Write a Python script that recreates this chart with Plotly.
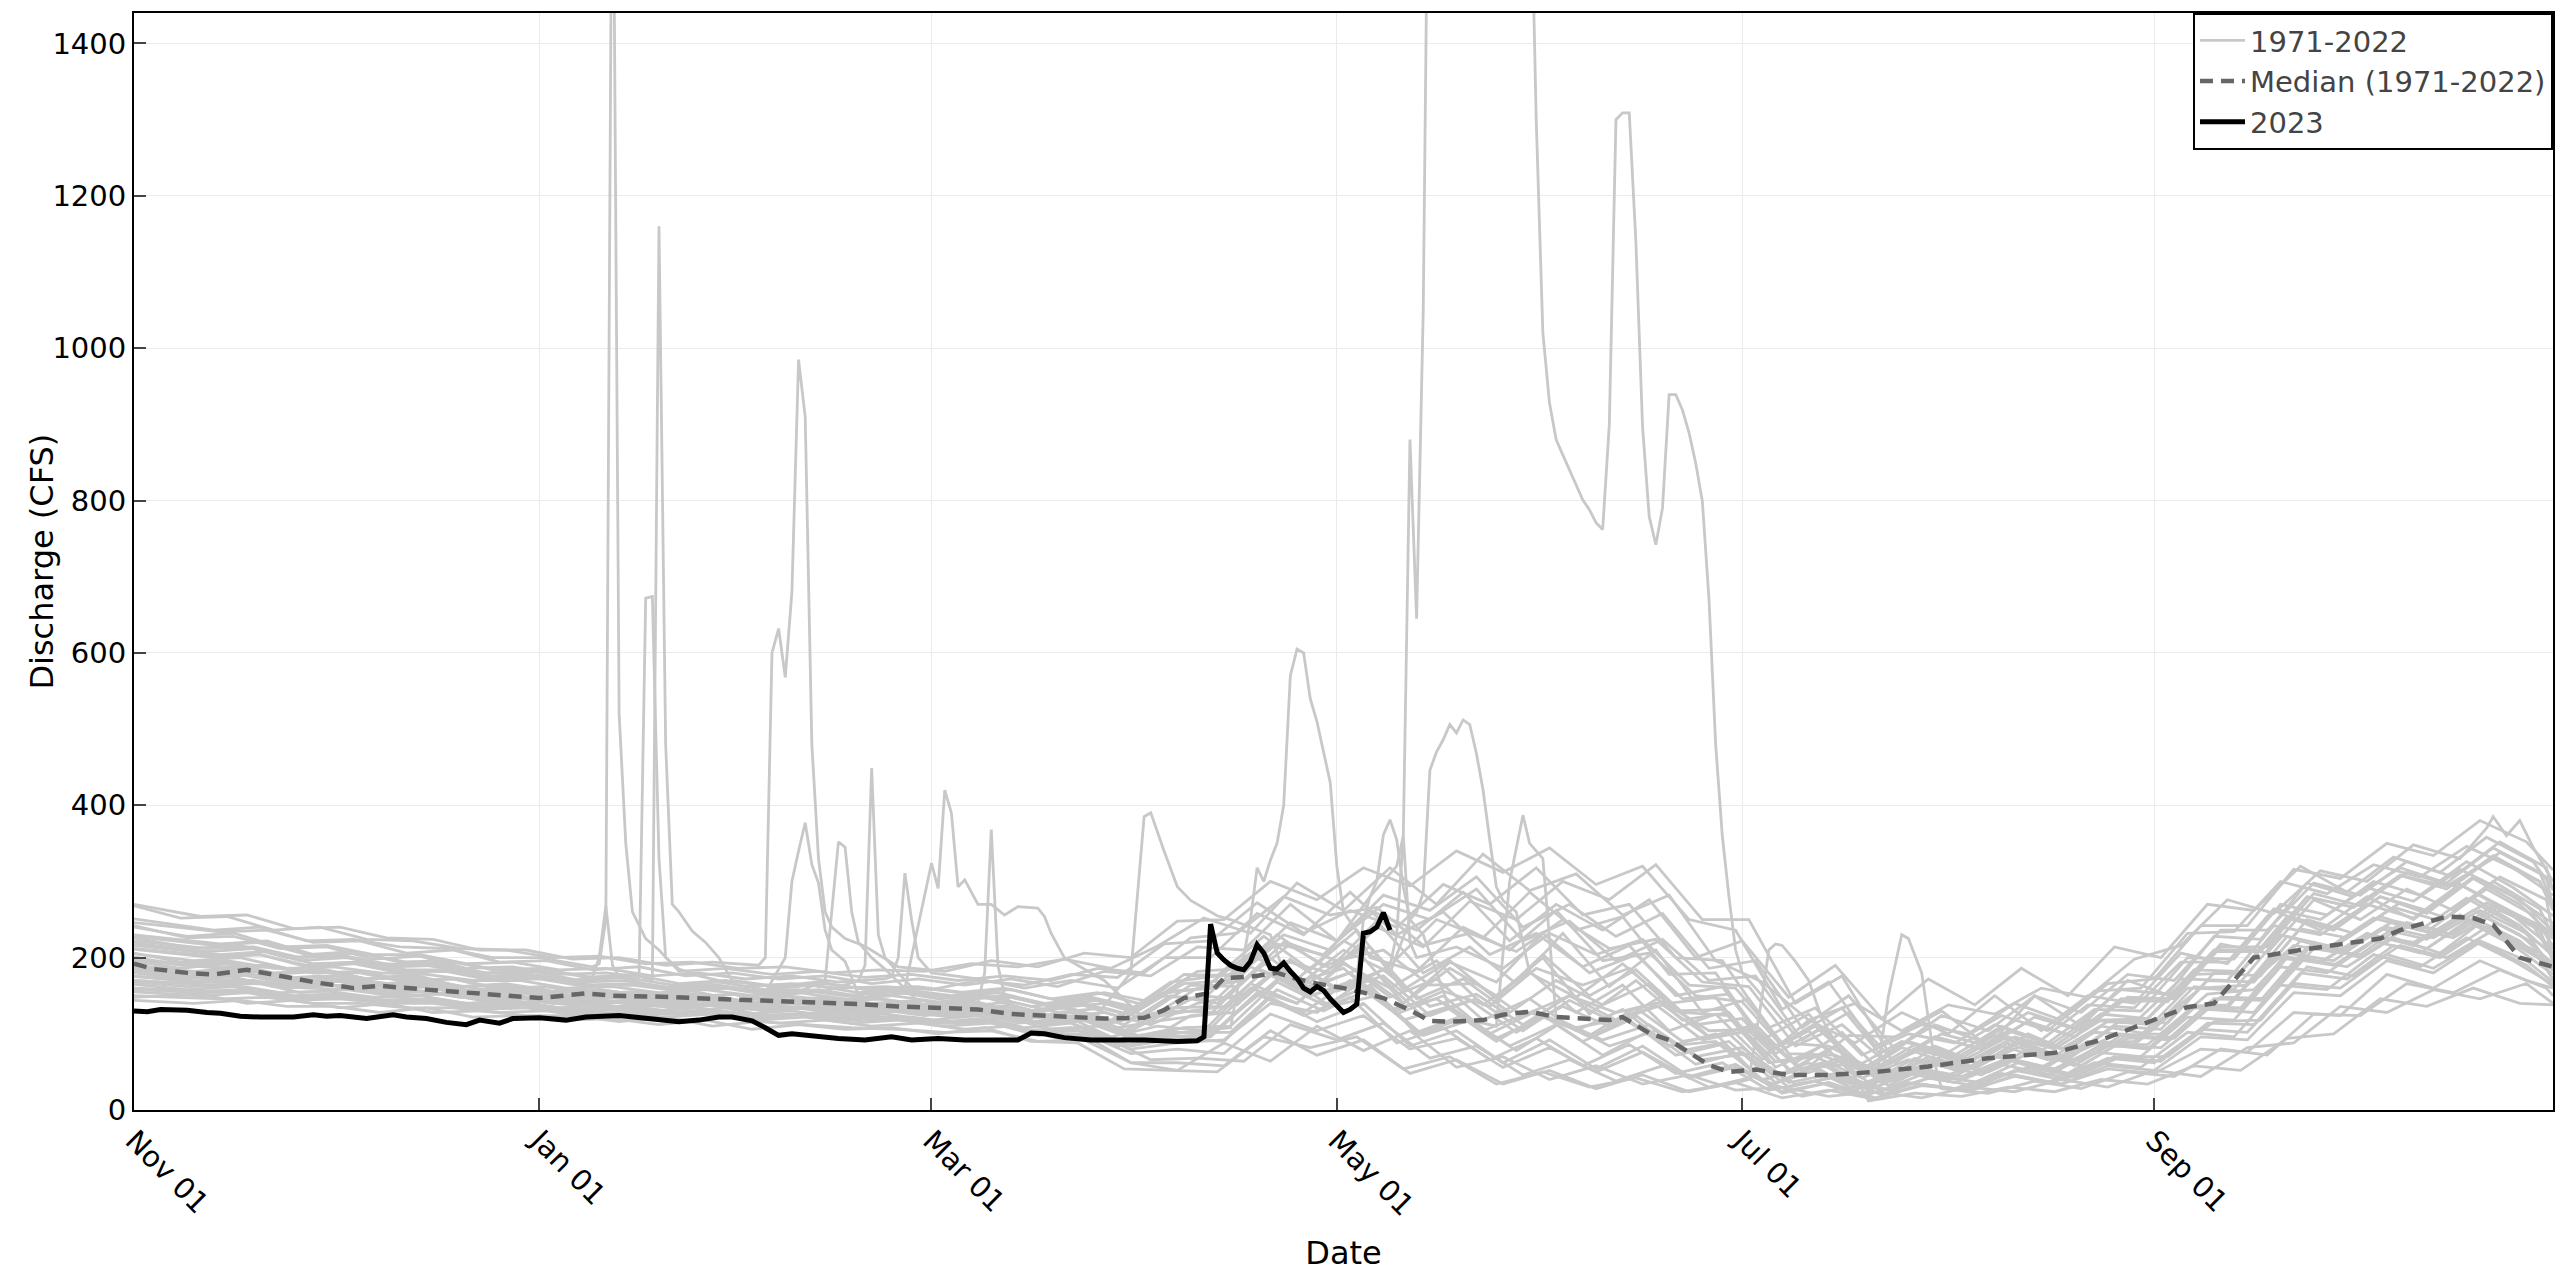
import pandas as pd
import plotly.graph_objects as go

# ---------------- data ----------------
BASE_DATE = "2022-11-01"   # day 0 of the water year (Nov 01)

# historical years 1971-2022: 53 roughly weekly values (CFS) each
hist_weekly = [
    [268,252,254,236,240,224,222,212,210,200,202,192,194,186,188,180,184,182, 192,188,198,186,215, 252,232,298,262,318,270,336,288,310,256,282,196, 168,118,140,104,138,126,160,148,198, 216,276,258,314,300,348,322,368,305],
    [148,152,140,144,134,140,128,130,124,124,116,122,110,116,112,108,106,102, 104,90,92,62,52, 88,64,110,78,104,56,70,40,58,34,46,26, 30,18,24,16,30,24,40,30,52, 44,82,88,136,128,158,146,166,140],
    [196,186,188,180,180,168,172,158,162,152,154,144,152,140,144,136,140,130, 138,122,128,112,140, 152,196,160,184,136,152,112,150,118,138,96,104, 52,66,44,70,50,78,58,94,96, 148,146,220,200,240,226,262,236,192],
    [226,212,216,200,204,192,190,180,180,168,172,160,164,156,158,150,156,146, 150,136,142,126,168, 176,228,184,236,158,196,146,204,150,184,128,124, 64,72,48,80,64,96,80,118,120, 178,180,252,236,280,258,304,270,228],
    [170,164,166,160,158,148,154,140,142,136,136,128,134,122,128,122,122,114, 122,106,110,88,124, 128,178,136,150,98,118,78,116,84,104,66,74, 34,44,26,44,36,56,44,70,70, 116,118,188,176,216,200,236,206,170],
    [242,226,228,212,214,198,202,186,188,178,180,168,176,162,166,160,162,158, 170,164,178,174,218, 222,272,232,262,240,296,270,318,256,270,200,196, 108,134,72,100,88,124,104,156,160, 232,234,300,284,322,306,346,318,282],
    [181,172,178,164,170,160,162,152,156,144,148,142,144,136,144,130,136,132, 132,120,122,98,102, 108,166,150,200,182,240,210,262,196,206,150,142, 74,72,44,66,56,84,70,98,100, 152,158,222,210,248,236,272,242,200],
    [206,194,196,186,186,172,178,162,166,156,158,150,156,144,150,144,146,138, 144,128,136,118,152, 160,206,168,186,132,146,104,128,108,120,84,90, 40,56,32,52,46,70,56,88,90, 136,138,200,194,230,220,254,228,190],
    [160,154,158,146,148,142,142,134,138,128,132,126,126,120,126,114,120,114, 116,102,104,80,88, 92,140,128,170,150,214,186,232,204,224,164,160, 88,84,52,80,64,96,80,116,112, 160,164,216,206,240,226,262,232,185],
    [216,204,208,192,194,184,184,174,174,164,166,158,160,152,156,148,152,146, 148,134,140,122,160, 170,218,196,210,164,166,124,150,128,142,104,106, 54,60,38,62,50,78,64,98,94, 148,146,212,204,246,230,268,238,200],
    [144,140,144,136,136,128,134,122,124,118,120,112,118,106,112,106,108,100, 108,90,88,54,52, 50,96,82,96,54,70,34,50,30,42,24,34, 16,24,12,22,18,30,24,40,34, 58,52,94,100,146,136,160,140,138],
    [251,236,240,222,224,214,212,200,200,190,192,182,186,178,182,174,178,170, 176,170,186,180,226, 232,280,256,266,216,232,208,250,212,224,168,162, 84,112,60,96,80,116,96,142,144, 210,210,280,266,308,294,330,300,265],
    [184,176,182,168,172,162,164,154,156,146,150,142,144,138,142,134,138,130, 134,120,128,108,118, 126,186,160,180,130,156,136,186,164,186,130,132, 62,70,42,66,54,84,66,102,98, 160,158,230,212,252,236,278,244,205],
    [175,168,170,162,164,152,158,144,148,140,144,134,142,130,136,128,132,122, 132,112,120,96,108, 110,168,138,164,100,120,78,118,92,112,70,82, 36,48,26,50,36,64,48,84,82, 132,128,200,188,226,206,252,220,182],
    [201,190,194,180,184,172,174,162,164,154,156,148,152,144,148,140,144,134, 142,126,134,116,150, 146,204,172,222,190,250,226,286,236,254,178,180, 92,126,56,90,76,112,92,138,134, 194,194,264,250,292,274,316,286,245],
    [155,150,154,144,146,140,140,132,134,126,128,122,126,118,122,114,118,110, 114,98,100,74,80, 74,126,104,124,80,94,56,82,50,76,42,56, 24,36,16,32,26,44,34,54,48, 80,76,128,124,178,160,196,170,160],
    [230,218,222,204,206,194,194,184,184,174,176,166,170,162,166,158,162,154, 158,144,154,142,182, 186,246,222,270,250,290,222,248,196,224,170,176, 92,128,62,100,84,122,104,148,146, 214,214,284,268,312,294,338,306,265],
    [190,182,186,172,176,166,168,156,158,148,152,144,148,138,144,136,140,132, 136,122,130,112,150, 140,194,150,168,118,136,94,122,98,134,90,100, 44,62,32,56,44,68,54,84,86, 136,134,206,196,238,224,262,230,192],
    [211,200,204,188,192,180,182,170,172,162,164,156,160,150,156,148,152,144, 148,134,140,120,130, 138,196,180,240,214,274,250,300,276,322,250,250, 140,176,76,112,90,128,108,158,152, 228,224,298,280,318,298,344,312,270],
    [165,158,162,148,152,144,146,136,140,130,134,126,130,122,126,118,122,114, 120,104,108,84,92, 96,152,124,148,88,108,66,94,58,86,48,62, 26,38,18,36,28,48,36,62,56, 102,96,164,158,204,188,226,196,165],
    [219,208,212,196,200,188,190,176,178,168,170,160,164,154,160,152,156,148, 154,138,148,134,178, 176,230,188,214,146,172,128,170,138,166,112,120, 52,84,36,70,54,90,66,110,106, 170,168,238,226,266,248,290,256,215],
    [180,172,176,162,166,156,158,148,150,140,144,136,140,132,136,128,132,124, 130,114,118,92,96, 98,160,140,194,148,172,118,146,104,132,84,100, 38,62,26,54,40,72,52,90,86, 136,134,204,194,232,216,256,224,188],
    [270,254,256,238,240,226,224,210,210,198,200,190,194,186,190,182,188,182, 196,188,206,200,248, 250,300,276,318,294,340,312,344,296,320,250,236, 132,168,84,112,100,140,118,166,172, 242,242,316,304,350,334,380,352,315],
    [150,146,148,140,140,134,134,128,130,122,124,118,122,114,118,110,114,106, 110,94,96,66,68, 64,112,92,114,68,84,46,66,38,58,30,44, 18,30,12,28,22,38,28,50,44, 80,72,126,124,166,154,184,160,150],
    [205,196,200,186,188,180,178,170,170,160,162,154,158,150,154,146,150,142, 148,130,140,120,156, 160,206,160,184,140,194,168,232,180,204,146,152, 74,108,50,86,68,104,84,126,120, 184,182,254,240,280,262,306,276,235],
    [185,178,182,170,172,164,166,156,156,148,150,144,146,138,142,134,138,130, 136,120,126,104,116, 118,182,154,180,122,144,102,136,110,138,92,104, 46,70,32,62,46,80,58,98,92, 146,144,214,204,244,228,268,236,196],
    [240,228,232,214,216,204,204,192,194,184,186,176,180,172,176,168,172,164, 172,160,170,160,200, 200,258,230,286,230,260,204,232,188,216,150,162, 80,110,54,90,72,110,88,132,130, 200,198,270,256,300,282,326,292,255],
    [170,164,168,154,158,150,152,144,146,138,142,134,138,130,134,126,130,122, 128,112,118,94,102, 102,158,130,160,102,124,84,112,72,104,60,76, 30,44,20,42,32,54,42,70,64, 114,112,180,172,216,200,240,210,172],
    [195,186,192,178,182,172,174,162,164,154,158,150,152,144,150,140,146,138, 142,126,134,114,128, 130,188,162,210,180,218,150,180,148,192,140,148, 72,104,44,82,62,98,78,118,114, 172,170,242,230,270,252,296,264,225],
    [158,154,156,146,150,142,144,136,138,130,132,126,130,122,126,118,122,114, 118,102,108,84,94, 90,148,116,140,84,104,62,92,54,84,44,60, 22,36,14,34,24,46,34,58,52, 96,92,154,150,196,180,220,190,162],
    [198,188,190,180,182,170,172,160,162,152,156,148,152,144,148,140,144,136, 142,128,134,118,150, 146,198,156,176,124,146,104,144,114,150,96,112, 50,98,96,130,84,150,110,170,148, 218,206,276,250,290,262,306,276,232],
    [176,168,172,160,164,154,156,146,150,140,142,136,140,132,136,128,132,124, 128,114,120,100,130, 128,182,150,172,110,132,90,126,96,124,78,90, 36,60,26,54,40,68,50,86,80, 134,130,200,190,228,212,252,222,184],
    [228,216,220,204,208,194,196,184,186,174,178,166,170,162,168,158,162,154, 160,146,154,138,176, 178,230,210,250,220,268,214,246,200,238,178,186, 98,134,60,96,80,116,96,146,142, 208,208,280,266,308,290,334,300,262],
    [168,162,164,154,156,148,150,140,144,134,138,130,134,126,130,122,126,118, 124,108,114,92,104, 98,154,128,170,126,150,100,130,90,118,72,86, 32,52,22,48,36,60,46,76,70, 122,118,188,180,222,206,248,216,178],
    [222,212,214,200,202,190,192,180,182,170,174,164,168,158,164,154,158,150, 154,140,146,130,166, 170,218,204,262,236,286,222,270,236,276,200,222, 148,190,120,172,138,186,150,214,200, 270,262,320,286,332,312,358,326,290],
    [188,180,184,172,176,164,168,156,160,150,152,144,148,140,144,136,140,132, 138,120,124,96,110, 104,166,140,192,160,196,138,182,128,164,104,126, 66,118,88,128,100,150,104,150,140, 206,192,262,236,280,250,296,262,212],
    [160,156,158,150,152,144,146,138,140,132,134,128,130,124,126,120,122,116, 118,100,98,62,62, 58,104,72,92,48,66,34,52,28,46,24,36, 16,26,14,34,26,52,40,68,62, 106,102,166,160,204,186,222,196,168],
    [246,234,236,220,222,206,210,194,196,184,188,176,180,172,176,166,172,164, 172,162,182,176,214, 210,270,222,282,262,306,240,270,228,258,186,196, 108,150,80,124,104,150,128,178,170, 236,236,298,282,326,306,352,318,288],
    [182,174,178,166,170,158,162,152,154,144,148,140,144,136,140,132,136,128, 132,116,122,104,134, 136,192,168,210,140,186,150,200,126,170,118,128, 56,84,36,68,50,88,64,110,100, 162,156,228,214,254,234,278,242,202],
    [212,202,204,190,194,182,184,172,174,164,166,158,162,154,158,148,154,146, 150,136,144,124,164, 162,220,186,248,180,214,166,232,162,210,128,146, 62,102,40,84,60,100,74,118,114, 180,176,250,232,272,252,300,264,228],
]

# daily detail of storm events in some historical years: line index -> (days, values)
hist_events = {
    11: ([69, 70, 71, 72, 73, 74, 75, 77, 79], [188, 192, 250, 1800, 520, 350, 260, 225, 210]),
    5:  ([76, 77, 78, 79, 80, 82], [175, 672, 674, 330, 200, 185]),
    16: ([78, 79, 80, 81, 82, 84, 86, 88], [170, 1160, 480, 270, 260, 235, 220, 200]),
    22: ([94, 95, 96, 97, 98, 99, 100, 101, 102, 103, 104, 105, 107, 110],
         [190, 200, 600, 632, 568, 680, 985, 910, 480, 330, 260, 240, 225, 215]),
    20: ([98, 99, 100, 101, 102, 103, 104, 105, 107], [200, 300, 340, 377, 322, 298, 236, 210, 195]),
    14: ([104, 106, 107, 108, 109, 111, 113], [170, 352, 345, 260, 220, 200, 185]),
    3:  ([69, 70, 71, 72, 73], [175, 200, 268, 190, 175]),
    9:  ([109, 110, 111, 112, 113, 115], [170, 190, 449, 230, 200, 180]),
    26: ([114, 115, 116, 117, 118, 120], [175, 200, 311, 250, 200, 180]),
    18: ([116, 117, 118, 119, 120, 121, 122, 123, 124, 125, 127, 129, 131, 133, 136, 137, 138, 140, 143, 146],
         [160, 200, 240, 280, 324, 291, 420, 390, 293, 302, 270, 270, 256, 267, 265, 254, 232, 200, 185, 170]),
    12: ([127, 128, 129, 130, 131], [140, 180, 368, 190, 150]),
    25: ([150, 152, 153, 155, 157, 159, 161, 163, 165, 168, 171],
         [180, 385, 390, 340, 293, 275, 265, 255, 250, 240, 230]),
    6:  ([168, 169, 170, 171, 172, 173, 174, 175, 176, 177, 178, 179, 180, 181, 182, 184],
         [250, 318, 300, 328, 350, 400, 570, 605, 600, 540, 510, 470, 430, 320, 260, 235]),
    0:  ([350, 352, 354, 355, 357, 359, 361, 364], [330, 350, 370, 385, 360, 380, 345, 300]),
    8:  ([189, 190, 191, 192, 193], [190, 230, 360, 220, 200]),
    31: ([185, 186, 187, 188, 189, 190, 191, 192, 194], [250, 280, 300, 361, 381, 355, 293, 250, 230]),
    10: ([243, 245, 246, 247, 248, 250, 252, 254], [40, 150, 210, 218, 216, 195, 170, 120]),
    23: ([262, 264, 266, 267, 269, 271], [30, 150, 230, 225, 180, 60]),
    13: ([205, 207, 209, 210, 212, 214], [110, 300, 387, 350, 330, 120]),
    32: ([186, 188, 190, 191, 192, 193, 194, 195, 197, 200, 203, 206, 209, 210, 211, 212, 213, 214, 215, 216,
          217, 218, 219, 220, 221, 222, 223, 224, 225, 226, 227, 228, 229, 230, 231, 232, 233, 234, 235, 236,
          237, 238, 239, 240, 241, 242, 244],
         [280, 300, 320, 360, 880, 645, 1050, 1900, 2600, 3100, 2800, 2400, 1900, 1700, 1300, 1020, 928, 880,
          860, 840, 820, 801, 788, 771, 762, 900, 1300, 1309, 1309, 1139, 897, 779, 742, 790, 939, 939, 919,
          889, 849, 799, 670, 480, 360, 280, 210, 180, 160]),
    28: ([192, 193, 194, 195, 196, 197, 198, 199, 200, 201, 202, 203, 204, 205, 206, 208],
         [250, 260, 285, 446, 470, 486, 506, 495, 512, 506, 468, 420, 355, 293, 275, 260]),
}

# median of 1971-2022
median_days = [0,3,8,12,17,22,27,33,37,44,50,54,61,68,72,78,85,90,96,103,109,115,121,127,132,140,146,152,155,158,
               162,164,168,172,175,178,182,185,188,192,195,198,203,206,210,214,218,222,224,228,231,234,237,240,244,
               249,255,262,270,279,289,296,302,306,309,313,316,319,326,333,338,341,348,352,355,359,364]
median_vals = [192,185,180,178,184,176,168,160,163,158,154,151,147,153,150,149,147,145,143,141,139,136,134,132,126,122,
               120,121,131,147,154,173,175,180,172,166,160,154,147,131,117,116,118,125,129,122,120,118,122,101,92,75,59,
               50,53,46,46,50,57,68,75,92,112,125,135,140,170,200,210,218,225,236,254,252,243,200,188]

# water year 2023
y2023_days = [0,2,4,8,11,13,16,19,24,27,29,31,35,39,41,44,47,50,52,55,57,61,65,68,73,78,82,85,88,90,93,95,97,99,103,
              106,110,114,117,121,125,130,133,135,137,140,144,152,157,160,161,162,163,164,165,166,167,168,169,170,171,
              172,173,174,175,176,177,178,179,180,181,182,183,184,185,186,187,188,189]
y2023_vals = [130,129,132,131,128,127,123,122,122,125,123,124,120,125,122,120,115,112,118,114,120,121,118,122,124,120,
              116,118,122,122,117,108,98,100,96,94,92,96,92,94,92,93,92,101,100,95,92,92,90,91,96,244,206,197,190,186,184,
              195,217,206,186,185,193,182,173,160,155,162,157,146,136,128,132,139,232,234,240,259,236]

# ---------------- figure ----------------
base = pd.Timestamp(BASE_DATE)


def to_dates(days):
    return [base + pd.Timedelta(days=int(d)) for d in days]


def sample_days(offset, n):
    # first and last samples at the ends of the water year, weekly in between
    return [0] + [offset + 7 * k for k in range(1, n - 1)] + [364]


fig = go.Figure()
GREY = "#c8c8c8"
for i, weekly in enumerate(hist_weekly):
    pts = dict(zip(sample_days((i * 3) % 7, len(weekly)), weekly))
    if i in hist_events:
        ev_d, ev_v = hist_events[i]
        lo, hi = min(ev_d), max(ev_d)
        pts = {d: v for d, v in pts.items() if d < lo or d > hi}
        pts.update(dict(zip(ev_d, ev_v)))
    days = sorted(pts)
    fig.add_trace(go.Scatter(
        x=to_dates(days), y=[pts[d] for d in days], mode="lines",
        line=dict(color=GREY, width=2.8), name="1971-2022", legendgroup="hist",
        showlegend=(i == 0), hoverinfo="skip"))

fig.add_trace(go.Scatter(
    x=to_dates(median_days), y=median_vals, mode="lines",
    line=dict(color="#666666", width=4.5, dash="13px,8px"), name="Median (1971-2022)"))
fig.add_trace(go.Scatter(
    x=to_dates(y2023_days), y=y2023_vals, mode="lines",
    line=dict(color="black", width=5), name="2023"))

axis_common = dict(
    showgrid=True, gridcolor="#ebebeb", gridwidth=1,
    showline=True, linecolor="black", linewidth=2, mirror=True,
    ticks="inside", ticklen=12, tickwidth=2, tickcolor="#444",
    zeroline=False,
    tickfont=dict(family="DejaVu Sans", size=29, color="black"),
)
fig.update_xaxes(
    range=[base, base + pd.Timedelta(days=364)],
    tickformat="%b %d", dtick="M2", tick0=BASE_DATE, tickangle=45,
    title=dict(text="Date", standoff=20, font=dict(family="DejaVu Sans", size=32, color="black")),
    **axis_common)
fig.update_yaxes(range=[0, 1440], dtick=200, tick0=0, **axis_common)

fig.add_annotation(
    text="Discharge (CFS)", xref="paper", yref="paper", x=-0.0384, y=0.5,
    xanchor="center", yanchor="middle", textangle=-90, showarrow=False,
    font=dict(family="DejaVu Sans", size=32, color="black"))

fig.update_layout(
    width=2560, height=1276,
    margin=dict(l=134, r=7, t=13, b=166, autoexpand=False),
    plot_bgcolor="white", paper_bgcolor="white",
    font=dict(family="DejaVu Sans", color="black"),
    legend=dict(x=1, y=1, xanchor="right", yanchor="top", bgcolor="white",
                bordercolor="black", borderwidth=2, tracegroupgap=0, itemwidth=45,
                font=dict(family="DejaVu Sans", size=29, color="#444")),
    showlegend=True,
)

fig.write_html("out.html")
